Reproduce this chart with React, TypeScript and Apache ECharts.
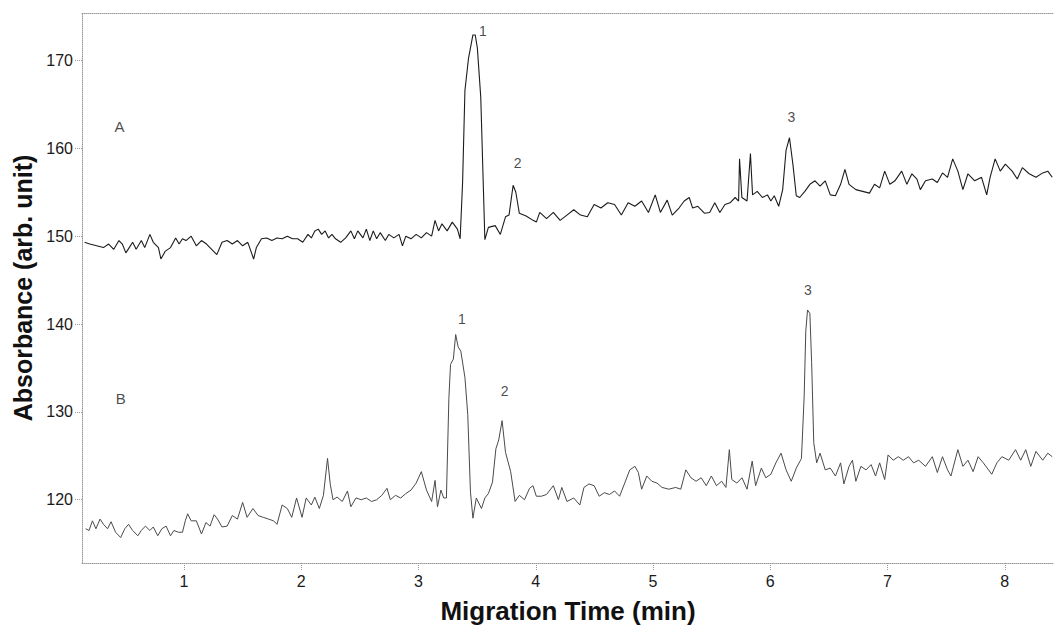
import React, { useEffect, useRef } from "react";
import * as echarts from "echarts";

// Trace A (upper electropherogram): migration time (min) and absorbance
const timeA = [
  0.152, 0.196, 0.255, 0.313, 0.357, 0.401, 0.445, 0.474, 0.504, 0.533, 0.562, 0.592, 0.636, 0.665, 0.709, 0.738,
  0.782, 0.803, 0.841, 0.885, 0.929, 0.958, 0.987, 1.017, 1.061, 1.105, 1.149, 1.192, 1.236, 1.28, 1.324, 1.368,
  1.412, 1.456, 1.5, 1.544, 1.594, 1.617, 1.661, 1.705, 1.749, 1.793, 1.837, 1.881, 1.925, 1.969, 2.013, 2.057,
  2.086, 2.116, 2.145, 2.174, 2.204, 2.233, 2.262, 2.292, 2.336, 2.379, 2.423, 2.453, 2.482, 2.526, 2.555, 2.585,
  2.614, 2.643, 2.673, 2.717, 2.746, 2.79, 2.834, 2.863, 2.892, 2.936, 2.98, 3.024, 3.068, 3.112, 3.141, 3.171,
  3.2, 3.244, 3.288, 3.332, 3.355, 3.376, 3.396, 3.426, 3.464, 3.484, 3.502, 3.531, 3.566, 3.596, 3.654, 3.698,
  3.742, 3.772, 3.807, 3.83, 3.86, 3.918, 3.977, 4.005, 4.034, 4.092, 4.15, 4.208, 4.266, 4.324, 4.382, 4.44,
  4.498, 4.556, 4.614, 4.672, 4.73, 4.788, 4.845, 4.903, 4.961, 5.019, 5.063, 5.121, 5.164, 5.222, 5.266, 5.309,
  5.338, 5.382, 5.44, 5.483, 5.527, 5.57, 5.614, 5.657, 5.701, 5.73, 5.738, 5.758, 5.802, 5.831, 5.849, 5.889,
  5.933, 5.976, 6.005, 6.034, 6.072, 6.106, 6.135, 6.164, 6.193, 6.222, 6.251, 6.295, 6.338, 6.382, 6.425, 6.469,
  6.512, 6.556, 6.6, 6.637, 6.672, 6.73, 6.788, 6.846, 6.889, 6.933, 6.976, 7.02, 7.063, 7.121, 7.165, 7.208,
  7.251, 7.28, 7.324, 7.382, 7.425, 7.469, 7.512, 7.556, 7.6, 7.643, 7.686, 7.744, 7.802, 7.846, 7.875, 7.918,
  7.962, 8.005, 8.063, 8.107, 8.15, 8.208, 8.266, 8.324, 8.367, 8.405,
];
const absA = [
  149.3, 149.1, 148.9, 148.7, 149.1, 148.5, 149.5, 149.1, 148.1, 148.7, 149.3, 148.5, 149.5, 148.7, 150.2, 149.3,
  148.7, 147.4, 148.3, 148.7, 149.8, 149.1, 149.7, 149.5, 150.0, 148.9, 149.5, 149.1, 148.5, 147.9, 149.3, 149.5,
  149.1, 149.5, 148.9, 149.3, 147.4, 148.7, 149.7, 149.8, 149.5, 149.8, 149.7, 150.0, 149.7, 149.7, 149.3, 150.2,
  149.8, 150.6, 150.8, 150.2, 150.6, 149.8, 150.2, 149.7, 149.3, 149.8, 150.6, 149.7, 150.6, 149.8, 150.8, 149.5,
  150.6, 149.7, 150.4, 149.5, 150.2, 149.8, 150.2, 148.9, 150.0, 149.7, 150.2, 149.8, 150.4, 150.0, 151.8, 150.6,
  151.4, 150.6, 151.6, 150.8, 149.7, 156.1, 166.6, 170.2, 172.9, 172.9, 171.4, 165.8, 149.6, 151.0, 151.2, 150.2,
  152.2, 152.4, 155.8, 155.0, 152.6, 152.3, 151.8, 151.6, 152.7, 152.0, 152.7, 151.8, 152.4, 153.0, 152.4, 152.2,
  153.6, 153.2, 153.8, 153.6, 152.4, 153.8, 153.4, 154.0, 152.7, 154.7, 152.7, 154.1, 152.4, 153.2, 154.0, 154.4,
  153.2, 153.4, 152.6, 152.7, 153.8, 152.7, 153.6, 153.8, 154.4, 154.0, 158.8, 154.4, 154.0, 159.4, 154.7, 155.1,
  154.4, 154.7, 154.0, 154.6, 153.4, 155.3, 159.8, 161.2, 158.2, 154.6, 154.4, 155.1, 155.9, 156.3, 155.7, 156.3,
  154.7, 154.6, 155.9, 157.6, 155.9, 155.3, 155.1, 154.9, 155.9, 155.5, 157.4, 155.9, 156.3, 157.4, 155.9, 157.1,
  156.5, 155.3, 156.3, 156.5, 156.1, 157.2, 156.7, 158.8, 157.4, 155.3, 157.1, 156.3, 156.7, 154.7, 156.7, 158.8,
  157.4, 158.2, 157.4, 156.5, 157.8, 157.1, 156.7, 157.2, 157.4, 156.7,
];

// Trace B (lower electropherogram)
const timeB = [
  0.161, 0.19, 0.219, 0.249, 0.284, 0.313, 0.348, 0.378, 0.416, 0.46, 0.495, 0.527, 0.562, 0.606, 0.636, 0.671,
  0.709, 0.738, 0.776, 0.811, 0.847, 0.885, 0.914, 0.952, 0.987, 1.011, 1.031, 1.061, 1.105, 1.149, 1.187, 1.222,
  1.257, 1.286, 1.324, 1.368, 1.412, 1.456, 1.5, 1.538, 1.588, 1.632, 1.676, 1.72, 1.764, 1.793, 1.837, 1.881,
  1.919, 1.96, 2.007, 2.042, 2.086, 2.116, 2.154, 2.189, 2.224, 2.248, 2.271, 2.306, 2.35, 2.394, 2.423, 2.467,
  2.511, 2.555, 2.599, 2.643, 2.687, 2.731, 2.76, 2.804, 2.848, 2.892, 2.936, 2.98, 3.024, 3.068, 3.112, 3.141,
  3.162, 3.191, 3.215, 3.238, 3.259, 3.273, 3.297, 3.317, 3.338, 3.361, 3.396, 3.42, 3.443, 3.464, 3.493, 3.537,
  3.566, 3.596, 3.631, 3.66, 3.684, 3.713, 3.742, 3.786, 3.824, 3.86, 3.904, 3.947, 3.976, 4.005, 4.048, 4.092,
  4.15, 4.193, 4.222, 4.266, 4.324, 4.376, 4.411, 4.454, 4.498, 4.541, 4.585, 4.628, 4.672, 4.715, 4.759, 4.802,
  4.846, 4.875, 4.903, 4.947, 4.99, 5.034, 5.077, 5.135, 5.193, 5.237, 5.28, 5.324, 5.367, 5.411, 5.454, 5.498,
  5.541, 5.585, 5.622, 5.651, 5.672, 5.715, 5.759, 5.802, 5.846, 5.875, 5.924, 5.962, 6.005, 6.048, 6.092, 6.135,
  6.179, 6.222, 6.266, 6.289, 6.303, 6.318, 6.338, 6.353, 6.371, 6.396, 6.425, 6.469, 6.512, 6.556, 6.6, 6.628,
  6.672, 6.701, 6.73, 6.773, 6.817, 6.86, 6.898, 6.933, 6.976, 7.005, 7.049, 7.092, 7.135, 7.179, 7.222, 7.266,
  7.324, 7.382, 7.425, 7.469, 7.512, 7.541, 7.6, 7.643, 7.686, 7.73, 7.773, 7.817, 7.889, 7.933, 7.976, 8.034,
  8.092, 8.136, 8.179, 8.222, 8.266, 8.324, 8.367, 8.405,
];
const absB = [
  116.7, 116.5, 117.6, 116.7, 117.8, 117.2, 116.7, 117.5, 116.3, 115.7, 116.7, 117.2, 116.5, 115.9, 116.5, 117.0,
  116.5, 116.9, 115.9, 116.7, 117.0, 115.9, 116.5, 116.3, 116.3, 117.6, 118.4, 117.6, 117.6, 116.1, 117.4, 117.0,
  118.3, 117.8, 116.9, 117.0, 118.2, 117.8, 119.7, 118.0, 119.0, 118.2, 118.0, 117.8, 117.6, 117.2, 119.4, 119.0,
  118.0, 120.2, 118.0, 120.2, 119.4, 120.3, 119.0, 120.5, 124.7, 121.7, 120.0, 120.3, 119.8, 121.0, 119.2, 120.2,
  120.0, 120.2, 119.8, 120.0, 120.5, 121.3, 120.0, 120.5, 120.2, 120.7, 121.1, 121.9, 123.2, 121.1, 119.8, 122.2,
  119.2, 121.1, 120.2, 120.2, 131.5, 135.4, 136.0, 138.8, 137.4, 136.9, 133.9, 129.7, 120.9, 117.9, 120.2, 119.0,
  120.2, 120.7, 122.0, 125.8, 126.8, 129.0, 125.4, 123.2, 119.8, 120.5, 120.0, 121.3, 121.6, 120.4, 120.4, 120.6,
  121.6, 120.0, 121.4, 119.8, 120.2, 119.4, 121.4, 121.8, 121.6, 120.4, 120.8, 120.6, 121.0, 120.4, 121.9, 123.4,
  123.8, 123.1, 121.2, 122.7, 122.1, 121.9, 121.4, 121.2, 121.4, 121.2, 123.4, 122.5, 122.1, 122.5, 121.6, 122.7,
  121.6, 122.1, 121.4, 125.7, 122.3, 121.9, 122.5, 121.2, 124.4, 121.6, 123.6, 122.5, 122.9, 124.2, 125.3, 123.4,
  122.1, 123.6, 124.7, 131.7, 139.2, 141.6, 141.2, 135.6, 126.5, 124.2, 125.3, 123.4, 123.6, 122.7, 124.2, 121.8,
  123.8, 124.5, 122.1, 123.8, 123.4, 124.0, 122.7, 124.2, 122.3, 125.1, 124.5, 124.9, 124.5, 124.9, 124.2, 124.5,
  123.8, 124.9, 123.1, 124.9, 123.4, 122.7, 125.7, 123.8, 124.5, 123.2, 124.9, 124.2, 122.9, 124.2, 124.9, 124.5,
  125.7, 124.5, 125.7, 123.8, 125.5, 124.5, 125.3, 124.9,
];

// Axis ticks
const xTicks = [1, 2, 3, 4, 5, 6, 7, 8];
const yTicks = [120, 130, 140, 150, 160, 170];

// Annotations (text, time, absorbance)
const noteText = ["A", "1", "2", "3", "B", "1", "2", "3"];
const noteTime = [0.45, 3.55, 3.845, 6.18, 0.46, 3.37, 3.735, 6.32];
const noteAbs = [162.5, 173.4, 158.3, 163.6, 131.5, 140.6, 132.4, 143.9];
const noteSize = [15, 14, 14, 14, 15, 14, 14, 14];

const X_MIN = 0.13;
const X_MAX = 8.42;
const Y_MIN = 112.8;
const Y_MAX = 175.4;

export default function App() {
  const ref = useRef<HTMLDivElement>(null);

  useEffect(() => {
    if (!ref.current) return;
    const chart = echarts.init(ref.current, undefined, { renderer: "svg" });
    const font = "'Liberation Sans', Arial, sans-serif";
    const dotted = { color: "#9a9a9a", width: 1, type: "dotted" as const };

    const dataA = timeA.map((t, i) => [t, absA[i]]);
    const dataB = timeB.map((t, i) => [t, absB[i]]);
    const notes = noteText.map((s, i) => ({
      value: [noteTime[i], noteAbs[i]],
      label: { formatter: s, fontSize: noteSize[i], color: "#1a1a1a" },
    }));

    chart.setOption({
      animation: false,
      backgroundColor: "#ffffff",
      grid: { left: 82, right: 0, top: 13, bottom: 63, containLabel: false },
      xAxis: [
        {
          type: "value",
          min: X_MIN,
          max: X_MAX,
          position: "bottom",
          axisLine: { show: true, lineStyle: dotted },
          axisTick: { show: true, length: 7, lineStyle: dotted, customValues: xTicks },
          axisLabel: {
            customValues: xTicks,
            color: "#1a1a1a",
            fontFamily: font,
            fontSize: 16,
            margin: 10,
          },
          splitLine: { show: false },
          name: "Migration Time (min)",
          nameLocation: "middle",
          nameGap: 35,
          nameTextStyle: { fontFamily: font, fontSize: 26, fontWeight: "bold", color: "#111" },
        },
        {
          type: "value",
          min: X_MIN,
          max: X_MAX,
          position: "top",
          axisLine: { show: true, lineStyle: dotted },
          axisTick: { show: false },
          axisLabel: { show: false },
          splitLine: { show: false },
        },
      ],
      yAxis: {
        type: "value",
        min: Y_MIN,
        max: Y_MAX,
        axisLine: { show: true, lineStyle: dotted },
        axisTick: { show: true, length: 7, lineStyle: dotted, customValues: yTicks },
        axisLabel: {
          customValues: yTicks,
          color: "#1a1a1a",
          fontFamily: font,
          fontSize: 16,
          margin: 9,
        },
        splitLine: { show: false },
        name: "Absorbance (arb. unit)",
        nameLocation: "middle",
        nameGap: 41,
        nameTextStyle: { fontFamily: font, fontSize: 25, fontWeight: "bold", color: "#111" },
      },
      series: [
        {
          name: "A",
          type: "line",
          data: dataA,
          showSymbol: false,
          symbol: "none",
          lineStyle: { color: "#1c1c1c", width: 1.1 },
          z: 3,
        },
        {
          name: "B",
          type: "line",
          data: dataB,
          showSymbol: false,
          symbol: "none",
          lineStyle: { color: "#4a4a4a", width: 1 },
          z: 2,
        },
        {
          name: "labels",
          type: "scatter",
          data: notes,
          symbolSize: 1,
          itemStyle: { color: "rgba(0,0,0,0)" },
          label: {
            show: true,
            position: "inside",
            color: "#1a1a1a",
            fontFamily: font,
          },
          silent: true,
          z: 4,
        },
      ],
    });

    return () => chart.dispose();
  }, []);

  return (
    <div
      ref={ref}
      style={{ position: "absolute", left: 0, top: 0, width: 1054, height: 629, background: "#fff" }}
    />
  );
}
